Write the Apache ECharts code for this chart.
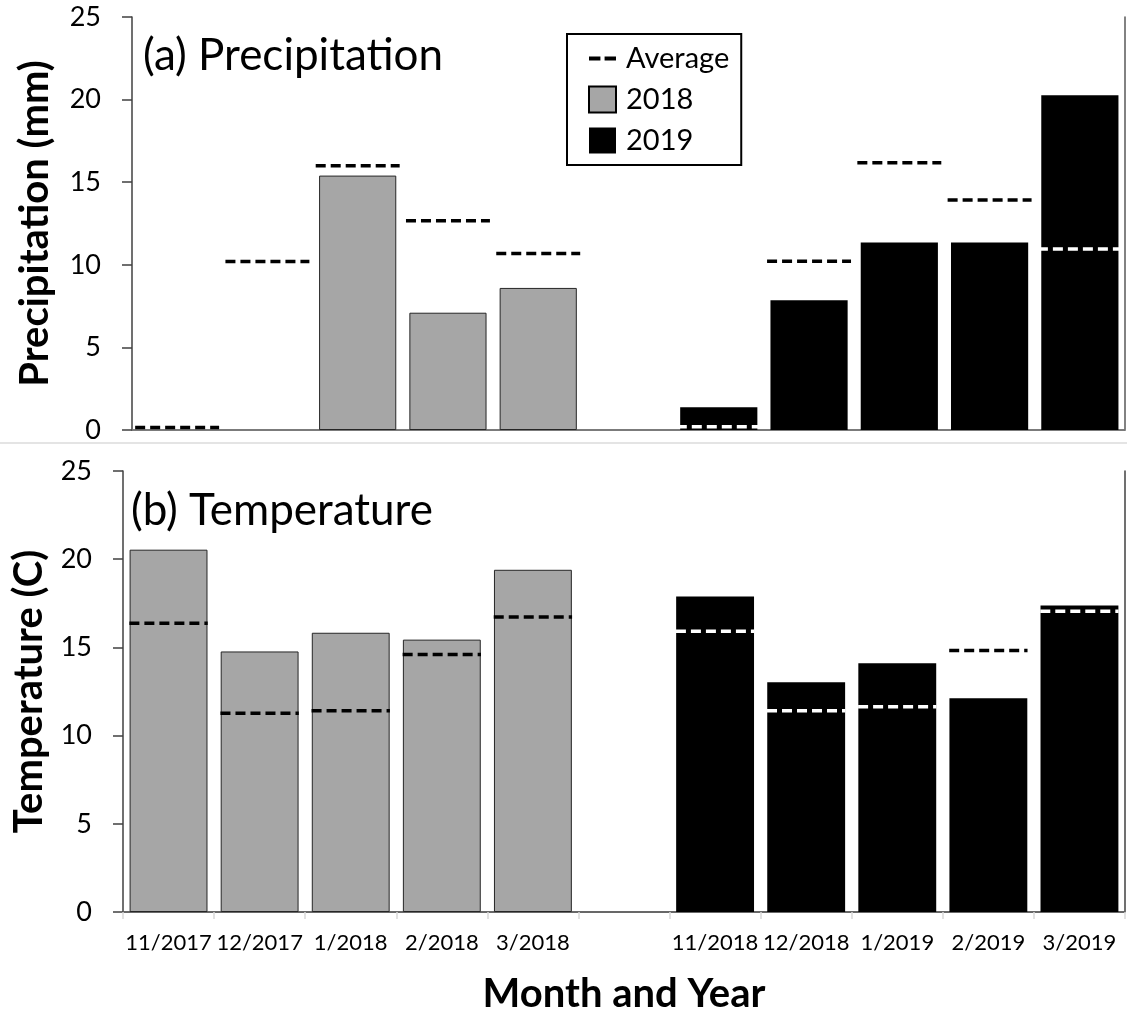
<!DOCTYPE html>
<html>
<head>
<meta charset="utf-8">
<script src="https://cdn.jsdelivr.net/npm/echarts@6/dist/echarts.min.js"></script>
<style>
html,body{margin:0;padding:0;background:#fff;}
#chart{width:1127px;height:1014px;}
</style>
</head>
<body>
<div id="chart"></div>
<script>
// ---- data ----
const categories = ['11/2017','12/2017','1/2018','2/2018','3/2018',' ','11/2018','12/2018','1/2019','2/2019','3/2019'];
const precip2018 = [0, 0, 15.4, 7.1, 8.6, null, null, null, null, null, null];
const precip2019 = [null, null, null, null, null, null, 1.37, 7.86, 11.35, 11.35, 20.26];
const precipAvg  = [0.15, 10.2, 16.0, 12.66, 10.69, null, 0.2, 10.22, 16.17, 13.93, 10.95];
const temp2018   = [20.54, 14.77, 15.83, 15.44, 19.4, null, null, null, null, null, null];
const temp2019   = [null, null, null, null, null, null, 17.88, 13.03, 14.1, 12.12, 17.37];
const tempAvg    = [16.37, 11.27, 11.41, 14.6, 16.72, null, 15.91, 11.41, 11.64, 14.83, 17.05];
const yTicks = [0, 5, 10, 15, 20, 25];

const FONT = 'Lato';
const chart = echarts.init(document.getElementById('chart'), null, {renderer:'canvas'});

// zero-height bars are not drawn (avoid a stroke line on the axis)
const barData = arr => arr.map(v => (v === 0 ? {value:0, itemStyle:{borderWidth:0, opacity:0}} : v));

function avgData(arr){
  const out = [];
  arr.forEach((v,i)=>{ if(v!=null) out.push([i, v]); });
  return out;
}
function avgRenderer(bars2019, frac){
  return function(params, api){
    const idx = api.value(0), v = api.value(1);
    const p = api.coord([idx, v]);
    const bw = api.size([1, 0])[0] * frac;
    const b = bars2019[idx];
    const col = (b != null && v < b) ? '#ffffff' : '#000000';
    return {
      type:'line',
      shape:{x1:p[0]-bw/2, y1:p[1], x2:p[0]+bw/2, y2:p[1]},
      style:{stroke:col, lineWidth:3.5, lineDash:[10,5]}
    };
  };
}

const yAxisBase = (gi) => ({
  type:'value', gridIndex:gi, min:yTicks[0], max:yTicks[yTicks.length-1], interval:5,
  axisLine:{show:true, lineStyle:{color:'#404040', width:1.5}},
  axisTick:{show:true, length:10, lineStyle:{color:'#404040', width:1.5}},
  axisLabel:{fontFamily:FONT, fontSize:27, color:'#000', margin:31},
  splitLine:{show:false},
  nameLocation:'middle', nameRotate:90,
  nameTextStyle:{fontFamily:FONT, fontSize:40, fontWeight:'bold', color:'#000'}
});

const option = {
  backgroundColor:'#fff',
  animation:false,
  title:[
    {text:'(a) Precipitation', left:138, top:29, textStyle:{fontFamily:FONT, fontSize:44, fontWeight:'normal', color:'#000'}},
    {text:'(b) Temperature', left:126, top:484, textStyle:{fontFamily:FONT, fontSize:44, fontWeight:'normal', color:'#000'}}
  ],
  legend:{
    left:567, top:34, orient:'vertical',
    padding:[10, 12, 10, 21],
    itemWidth:27, itemHeight:26, itemGap:12,
    borderColor:'#000', borderWidth:2,
    textStyle:{fontFamily:FONT, fontSize:29, color:'#000', padding:[0,0,0,5]},
    data:[
      {name:'Average', icon:'path://M0,0h11v4h-11zM15,0h11v4h-11z', itemStyle:{color:'#000', borderWidth:0}},
      {name:'2018', icon:'rect', itemStyle:{color:'#a6a6a6', borderColor:'#000', borderWidth:2}},
      {name:'2019', icon:'rect', itemStyle:{color:'#000', borderWidth:0}}
    ]
  },
  graphic:[
    {type:'rect', shape:{x:0, y:442, width:1127, height:2}, style:{fill:'#e4e4e4'}, silent:true}
  ],
  grid:[
    {left:132, right:2, top:17, bottom:584, outerBoundsMode:'none', containLabel:false},
    {left:123, right:2, top:471, bottom:102, outerBoundsMode:'none', containLabel:false}
  ],
  xAxis:[
    {type:'category', gridIndex:0, data:categories, boundaryGap:true,
     axisLine:{show:true, lineStyle:{color:'#d9d9d9', width:1.5}},
     axisTick:{show:false}, axisLabel:{show:false}},
    {type:'category', gridIndex:1, data:categories, boundaryGap:true,
     axisLine:{show:true, lineStyle:{color:'#d9d9d9', width:1.5}},
     axisTick:{show:true, length:7, lineStyle:{color:'#d9d9d9', width:1.5}},
     axisLabel:{interval:0, fontFamily:FONT, fontSize:22, color:'#000', margin:20},
     name:'Month and Year', nameLocation:'middle', nameGap:62,
     nameTextStyle:{fontFamily:FONT, fontSize:40, fontWeight:'bold', color:'#000'}},
    {type:'category', gridIndex:0, data:categories, position:'top',
     axisLine:{show:true, lineStyle:{color:'#595959', width:1.5}}, axisTick:{show:false}, axisLabel:{show:false}},
    {type:'category', gridIndex:1, data:categories, position:'top',
     axisLine:{show:true, lineStyle:{color:'#404040', width:1.5}}, axisTick:{show:false}, axisLabel:{show:false}}
  ],
  yAxis:[
    Object.assign(yAxisBase(0), {name:'Precipitation (mm)', nameGap:77}),
    Object.assign(yAxisBase(1), {name:'Temperature (C)', nameGap:74}),
    {type:'value', gridIndex:0, position:'right', min:0, max:25, interval:5,
     axisLine:{show:true, lineStyle:{color:'#595959', width:1.5}}, axisTick:{show:false}, axisLabel:{show:false}, splitLine:{show:false}},
    {type:'value', gridIndex:1, position:'right', min:0, max:25, interval:5,
     axisLine:{show:true, lineStyle:{color:'#404040', width:1.5}}, axisTick:{show:false}, axisLabel:{show:false}, splitLine:{show:false}}
  ],
  series:[
    {name:'2018', type:'bar', xAxisIndex:0, yAxisIndex:0, data:barData(precip2018), barGap:'-100%', barCategoryGap:'14.5%',
     itemStyle:{color:'#a6a6a6', borderColor:'#262626', borderWidth:1}},
    {name:'2019', type:'bar', xAxisIndex:0, yAxisIndex:0, data:barData(precip2019), barGap:'-100%', barCategoryGap:'14.5%',
     itemStyle:{color:'#000', borderWidth:0}},
    {name:'Average', type:'custom', xAxisIndex:0, yAxisIndex:0, data:avgData(precipAvg), z:5,
     itemStyle:{color:'#000'}, encode:{x:0, y:1},
     renderItem:avgRenderer(precip2019, 0.93)},
    {name:'2018', type:'bar', xAxisIndex:1, yAxisIndex:1, data:barData(temp2018), barGap:'-100%', barCategoryGap:'14.5%',
     itemStyle:{color:'#a6a6a6', borderColor:'#262626', borderWidth:1}},
    {name:'2019', type:'bar', xAxisIndex:1, yAxisIndex:1, data:barData(temp2019), barGap:'-100%', barCategoryGap:'14.5%',
     itemStyle:{color:'#000', borderWidth:0}},
    {name:'Average', type:'custom', xAxisIndex:1, yAxisIndex:1, data:avgData(tempAvg), z:5,
     itemStyle:{color:'#000'}, encode:{x:0, y:1},
     renderItem:avgRenderer(temp2019, 0.86)}
  ]
};
chart.setOption(option);
</script>
</body>
</html>
